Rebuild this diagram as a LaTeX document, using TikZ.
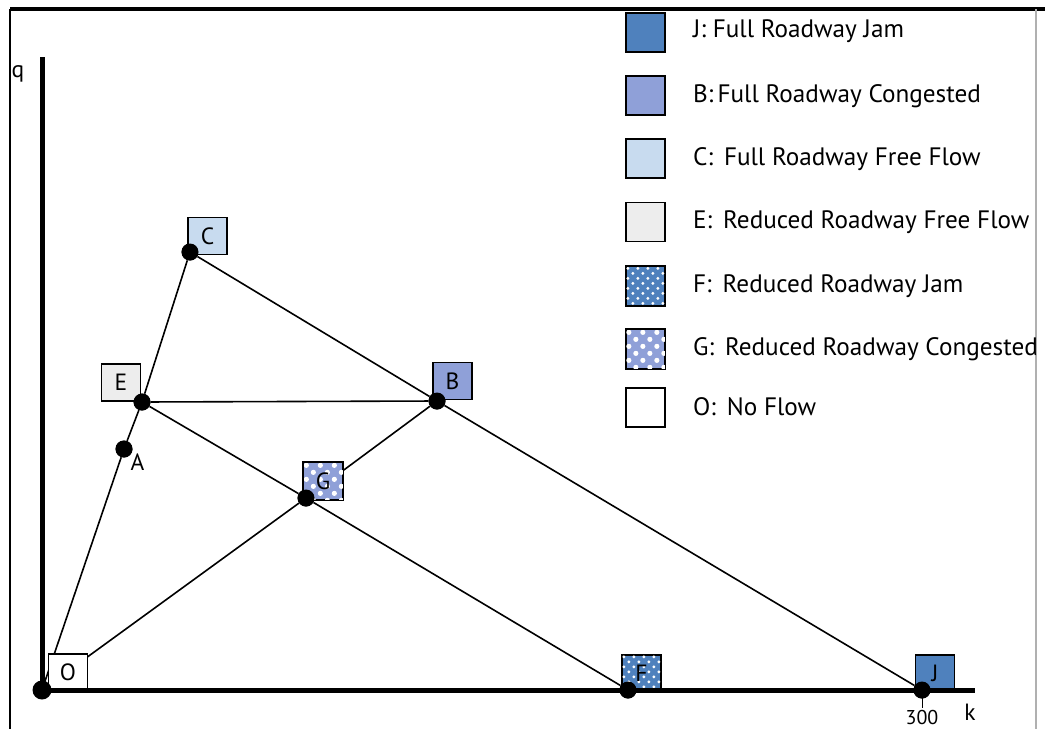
\documentclass[tikz,border=0pt]{standalone}
\usepackage{fontspec}
\setmainfont{PT Sans}
\usetikzlibrary{positioning}

\definecolor{jamblue}{HTML}{4F81BD}
\definecolor{congblue}{HTML}{8FA0D8}
\definecolor{freeblue}{HTML}{C8DBEF}
\definecolor{redgray}{HTML}{EDEDED}
\definecolor{framegray}{HTML}{B0B0B0}

\tikzset{
  state/.style={draw, line width=1.3pt, minimum width=39pt, minimum height=37pt, inner sep=0pt,
    font=\fontsize{23.5}{25}\selectfont},
  pt/.style={circle, fill=black, minimum size=17pt, inner sep=0pt},
  link/.style={line width=1.6pt},
  axis/.style={line width=5pt},
  lbl/.style={font=\fontsize{23.5}{25}\selectfont},
  legtext/.style={anchor=west, inner sep=0pt, font=\fontsize{25.2}{27}\selectfont},
}

% white dots over a box: node, step, radius
\newcommand{\whitedots}[3]{%
  \begin{scope}
    \clip (#1.south west) rectangle (#1.north east);
    \foreach \i in {0,...,7}
      \foreach \j in {0,...,7} {
        \fill[white, shift={(#1.north west)}] (\i*#2+#2/4, \j*#2+#2/4) circle (#3);
        \fill[white, shift={(#1.north west)}] (\i*#2+3*#2/4, \j*#2+3*#2/4) circle (#3);
      }
  \end{scope}
  \draw[line width=1.3pt] (#1.south west) rectangle (#1.north east);
}

\begin{document}
\begin{tikzpicture}[x=1pt, y=-1pt]
\useasboundingbox (0,0) rectangle (1045,729);

% frame
\draw[line width=4pt] (10,9) -- (1045,9);
\draw[line width=2.5pt] (10,9) -- (10,729);
\draw[framegray, line width=1.5pt] (1036,9) -- (1036,729);

% points
\coordinate (orig) at (42,690);
\node[pt] (C) at (190,252) {};
\node[pt] (E) at (142,402) {};
\node[pt] (A) at (124,449) {};
\node[pt] (B) at (437,401) {};
\node[pt] (G) at (306,498) {};
\node[pt] (F) at (628,690) {};
\node[pt] (J) at (922,690) {};

% lines
\draw[link] (orig) -- (A) -- (E) -- (C) -- (B) -- (J);
\draw[link] (E) -- (B);
\draw[link] (E) -- (G) -- (F);
\draw[link] (orig) -- (G) -- (B);

% state boxes
\node[state, fill=freeblue] (boxC) at (207.5,236) {C};
\node[state, fill=redgray] (boxE) at (121,382.5) {E};
\node[state, fill=congblue] (boxB) at (452.5,381) {B};
\node[state, fill=congblue] (boxG) at (323,481) {};
\whitedots{boxG}{14}{2.6pt}
\node[lbl] at (boxG) {G};
\node[state, fill=jamblue] (boxF) at (641.5,673.5) {};
\whitedots{boxF}{10}{1.6pt}
\node[lbl] at (boxF) {F};
\node[state, fill=jamblue] (boxJ) at (935,673.5) {J};
\node[state, fill=white] (boxO) at (68,672.5) {O};

% axes
\draw[axis] (42,57) -- (orig) -- (975,690);
\draw[line width=1pt] (922,690) -- (922,708);
\node[lbl] (q) at (18,74) {q};
\node[lbl] (k) at (970,712) {k};
\node[lbl, font=\fontsize{20}{22}\selectfont] (t300) at (922,717) {300};
\node[lbl, below right=-5pt and -3pt of A] (Alab) {A};

% dots on top
\node[pt] at (C) {};
\node[pt] at (E) {};
\node[pt] at (A) {};
\node[pt] at (B) {};
\node[pt] at (G) {};
\node[pt] at (F) {};
\node[pt] at (J) {};
\node[pt, minimum size=19pt] at (orig) {};

% legend
\node[state, minimum height=39pt, fill=jamblue] (legJ) at (645.5,32.5) {};
\node[legtext] at (693,31) {J: Full Roadway Jam};
\node[state, minimum height=39pt, fill=congblue] (legB) at (645.5,95.5) {};
\node[legtext] at (693,96) {B:\,Full Roadway Congested};
\node[state, minimum height=39pt, fill=freeblue] (legC) at (645.5,158.5) {};
\node[legtext] at (693,159) {C:\, Full Roadway Free Flow};
\node[state, minimum height=39pt, fill=redgray] (legE) at (645.5,222) {};
\node[legtext] at (693,222) {E:\, Reduced Roadway Free Flow};
\node[state, minimum height=39pt, fill=jamblue] (legF) at (645.5,286) {};
\whitedots{legF}{10}{1.6pt}
\node[legtext] at (693,286) {F:\, Reduced Roadway Jam};
\node[state, minimum height=39pt, fill=congblue] (legG) at (645.5,349) {};
\whitedots{legG}{14}{2.6pt}
\node[legtext] at (693,349) {G:\, Reduced Roadway Congested};
\node[state, minimum height=39pt, fill=white] (legO) at (645.5,407.5) {};
\node[legtext] at (693,407) {O:\, No Flow};
\end{tikzpicture}
\end{document}
